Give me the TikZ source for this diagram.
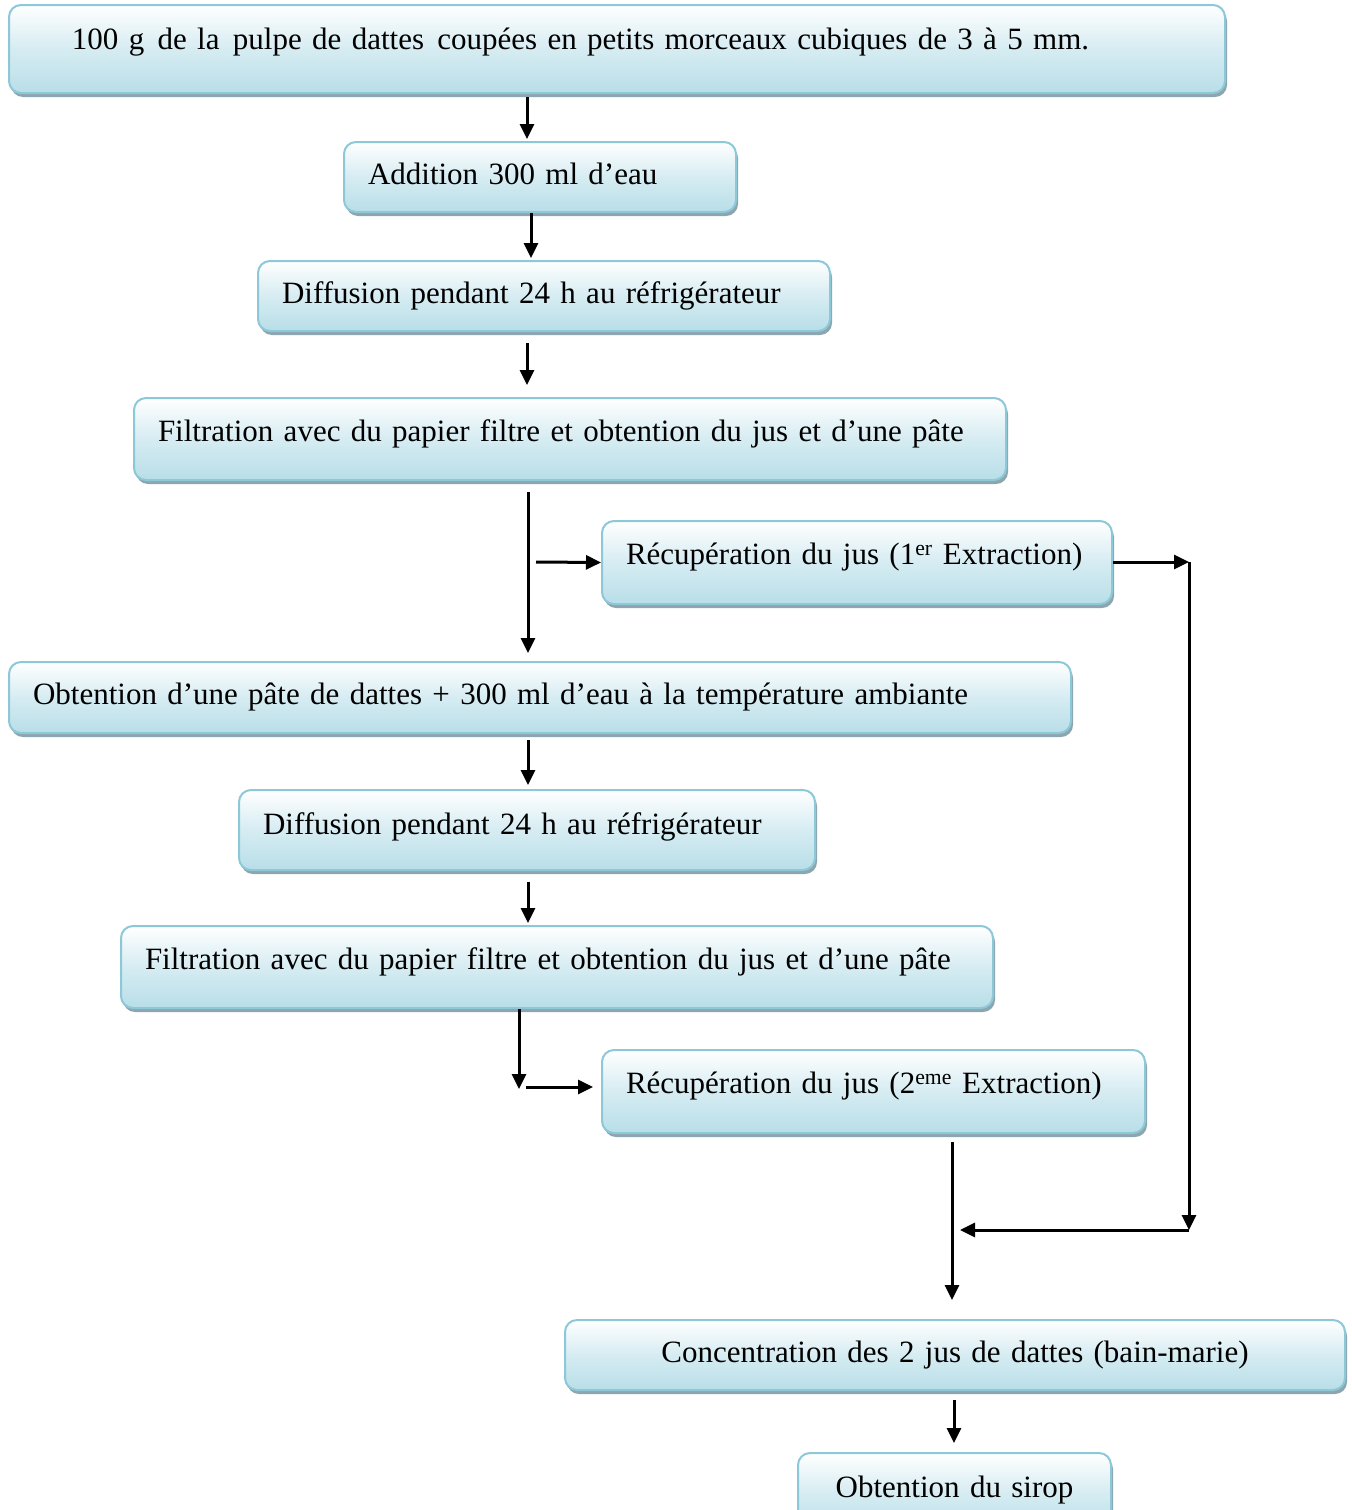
\documentclass[tikz,border=0pt]{standalone}
\usepackage{fontspec}
\setmainfont{Liberation Serif}
\usetikzlibrary{shadows,arrows.meta,calc}
\definecolor{boxedge}{RGB}{140,200,216}
\definecolor{boxbot}{RGB}{184,222,232}
\definecolor{boxmid}{RGB}{214,236,242}
\definecolor{shadowc}{RGB}{140,165,175}
\tikzset{
  box/.style={draw=boxedge, line width=2pt, rounded corners=12pt,
    top color=white, bottom color=boxbot, middle color=boxmid,
    drop shadow={shadow xshift=2pt, shadow yshift=-4pt, fill=shadowc, opacity=1},
    anchor=north west, inner xsep=24pt, inner ysep=0pt, align=left,
    font=\fontsize{31}{37}\selectfont, text depth=7pt},
  arr/.style={line width=3pt, -{Triangle[length=15pt,width=14pt]}}
}
\begin{document}
\begin{tikzpicture}[x=1pt,y=-1pt]
\useasboundingbox (0,0) rectangle (1352,1510);
\node[box, minimum width=1216, minimum height=88, text width=1168, text depth=21pt] (top) at (8,4)
  {\mbox{\hspace*{39pt}100 g \hspace{3pt}de la \hspace{3pt}pulpe de dattes \hspace{3pt}coupées en petits morceaux cubiques de 3 à 5 mm.}};
\node[box, minimum width=392, minimum height=70, text width=344] (add) at (343,141) {\mbox{Addition 300 ml d’eau}};
\node[box, minimum width=572, minimum height=70, text width=524] (dif1) at (257,260) {\mbox{Diffusion pendant 24 h au réfrigérateur}};
\node[box, minimum width=872, minimum height=82, text width=824, text depth=17pt] (fil1) at (133,397) {\mbox{Filtration avec du papier filtre et obtention du jus et d’une pâte}};
\node[box, minimum width=510, minimum height=83, text width=462, text depth=17pt] (rec1) at (601,520) {\mbox{Récupération du jus (1\textsuperscript{er} Extraction)}};
\node[box, minimum width=1062, minimum height=71, text width=1014] (obt) at (8,661) {\mbox{Obtention d’une pâte de dattes + 300 ml d’eau à la température ambiante}};
\node[box, minimum width=576, minimum height=80, text width=528, text depth=13pt] (dif2) at (238,789) {\mbox{Diffusion pendant 24 h au réfrigérateur}};
\node[box, minimum width=872, minimum height=82, text width=824, text depth=17pt] (fil2) at (120,925) {\mbox{Filtration avec du papier filtre et obtention du jus et d’une pâte}};
\node[box, minimum width=543, minimum height=83, text width=495, text depth=17pt] (rec2) at (601,1049) {\mbox{Récupération du jus (2\textsuperscript{eme} Extraction)}};
\node[box, minimum width=780, minimum height=70, text width=732, align=center] (conc) at (564,1319) {Concentration des 2 jus de dattes (bain-marie)};
\node[box, minimum width=313, minimum height=80, text width=265, align=center, text depth=13pt] (sir) at (797,1452) {Obtention du sirop};

\coordinate (b1) at (536,562);
\coordinate (c1) at (1189,562);
\coordinate (c2) at (1189,1230);
\coordinate (c3) at (960,1230);
\coordinate (b2) at (526,1087);
\coordinate (e2) at (593,1087);

\draw[arr, shorten <=3pt, shorten >=2pt] (527,0 |- top.south) -- (527,0 |- add.north);
\draw[arr, shorten <=0pt, shorten >=2pt] (531,0 |- add.south) -- (531,0 |- dif1.north);
\draw[arr, shorten <=11pt, shorten >=12pt] (527,0 |- dif1.south) -- (527,0 |- fil1.north);
\draw[arr, shorten <=11pt, shorten >=8pt] (528,0 |- fil1.south) -- (528,0 |- obt.north);
\draw[arr] (b1) -- (rec1.west);
\draw[arr] (rec1.east |- c1) -- (c1);
\draw[arr] (c1) -- (c2);
\draw[arr] (c2) -- (c3);
\draw[arr, shorten <=6pt, shorten >=4pt] (528,0 |- obt.south) -- (528,0 |- dif2.north);
\draw[arr, shorten <=11pt, shorten >=2pt] (528,0 |- dif2.south) -- (528,0 |- fil2.north);
\draw[arr, shorten >=-2pt] (519,0 |- fil2.south) -- (519,0 |- b2);
\draw[arr] (b2) -- (e2);
\draw[arr, shorten <=8pt, shorten >=19pt] (952,0 |- rec2.south) -- (952,0 |- conc.north);
\draw[arr, shorten <=9pt, shorten >=9pt] (954,0 |- conc.south) -- (954,0 |- sir.north);
\end{tikzpicture}
\end{document}
